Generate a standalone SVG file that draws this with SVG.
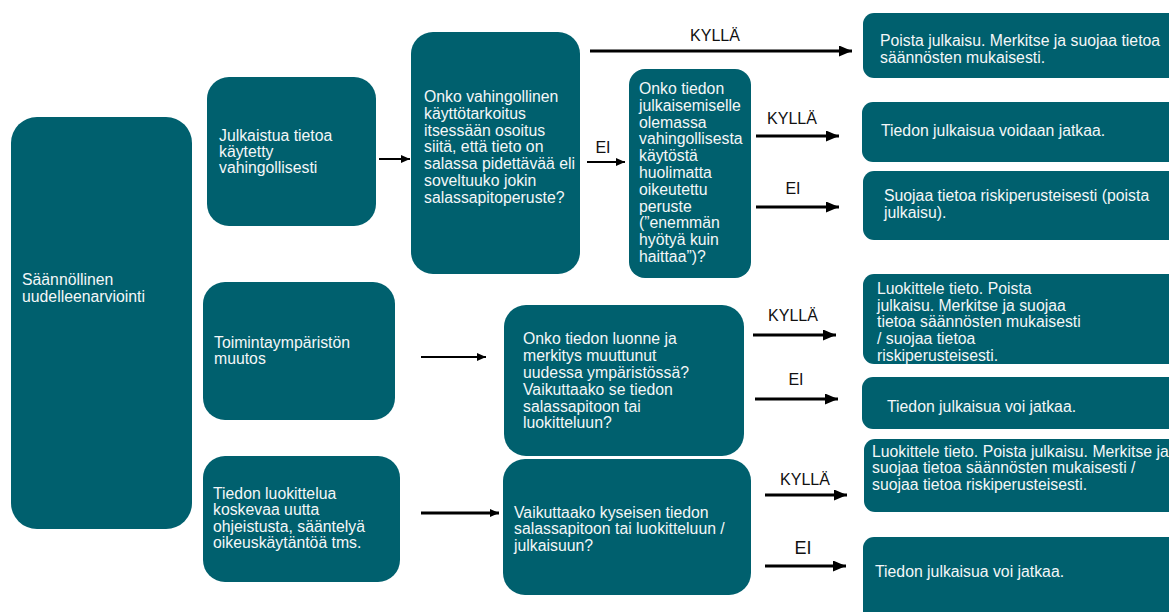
<svg xmlns="http://www.w3.org/2000/svg" width="1169" height="612" viewBox="0 0 1169 612">
<style>
.box{fill:#00606e}
.t{font-family:"Liberation Sans",Arial,sans-serif;font-size:15.8px;fill:#f4f7f8}
.lbl{font-family:"Liberation Sans",Arial,sans-serif;font-size:16px;fill:#111;text-anchor:middle}
.c{stroke:#000;fill:none}
.thick{stroke-width:3}
.thin{stroke-width:2}
</style>
<defs>
<marker id="ah" markerUnits="userSpaceOnUse" markerWidth="13" markerHeight="11" refX="13" refY="5.5" orient="auto"><path d="M0,0 L13,5.5 L0,11 z" fill="#000"/></marker>
<marker id="ahs" markerUnits="userSpaceOnUse" markerWidth="9" markerHeight="8" refX="9" refY="4" orient="auto"><path d="M0,0 L9,4 L0,8 z" fill="#000"/></marker>
</defs>
<rect width="1169" height="612" fill="#fff"/>
<g id="n-saannollinen"><rect class="box" x="11" y="117" width="181" height="412" rx="26"/><text class="t"><tspan x="22" y="285">Säännöllinen</tspan><tspan x="22" y="302">uudelleenarviointi</tspan></text></g>
<g id="n-julkaistua"><rect class="box" x="207" y="77" width="169" height="149" rx="22"/><text class="t"><tspan x="219" y="141">Julkaistua tietoa</tspan><tspan x="219" y="157">käytetty</tspan><tspan x="219" y="173">vahingollisesti</tspan></text></g>
<g id="n-onko-vahingollinen"><rect class="box" x="411" y="32" width="169" height="242" rx="22"/><text class="t"><tspan x="424" y="102">Onko vahingollinen</tspan><tspan x="424" y="119">käyttötarkoitus</tspan><tspan x="424" y="136">itsessään osoitus</tspan><tspan x="424" y="152">siitä, että tieto on</tspan><tspan x="424" y="169">salassa pidettävää eli</tspan><tspan x="424" y="186">soveltuuko jokin</tspan><tspan x="424" y="203">salassapitoperuste?</tspan></text></g>
<g id="n-onko-julkaisemiselle"><rect class="box" x="629" y="69" width="122" height="209" rx="16"/><text class="t"><tspan x="639" y="94">Onko tiedon</tspan><tspan x="639" y="111">julkaisemiselle</tspan><tspan x="639" y="128">olemassa</tspan><tspan x="639" y="144">vahingollisesta</tspan><tspan x="639" y="161">käytöstä</tspan><tspan x="639" y="178">huolimatta</tspan><tspan x="639" y="195">oikeutettu</tspan><tspan x="639" y="212">peruste</tspan><tspan x="639" y="228">(”enemmän</tspan><tspan x="639" y="245">hyötyä kuin</tspan><tspan x="639" y="262">haittaa”)?</tspan></text></g>
<g id="n-poista"><rect class="box" x="863" y="13" width="316" height="65" rx="11"/><text class="t"><tspan x="880" y="46">Poista julkaisu. Merkitse ja suojaa tietoa</tspan><tspan x="880" y="63">säännösten mukaisesti.</tspan></text></g>
<g id="n-voidaan"><rect class="box" x="862" y="102" width="317" height="60" rx="11"/><text class="t"><tspan x="881" y="136">Tiedon julkaisua voidaan jatkaa.</tspan></text></g>
<g id="n-suojaa"><rect class="box" x="863" y="171" width="316" height="69" rx="11"/><text class="t"><tspan x="884" y="201">Suojaa tietoa riskiperusteisesti (poista</tspan><tspan x="884" y="218">julkaisu).</tspan></text></g>
<g id="n-toimintaymparisto"><rect class="box" x="203" y="282" width="192" height="138" rx="22"/><text class="t"><tspan x="214" y="348">Toimintaympäristön</tspan><tspan x="214" y="364">muutos</tspan></text></g>
<g id="n-onko-luonne"><rect class="box" x="504" y="305" width="240" height="151" rx="22"/><text class="t"><tspan x="523" y="344">Onko tiedon luonne ja</tspan><tspan x="523" y="361">merkitys muuttunut</tspan><tspan x="523" y="378">uudessa ympäristössä?</tspan><tspan x="523" y="395">Vaikuttaako se tiedon</tspan><tspan x="523" y="412">salassapitoon tai</tspan><tspan x="523" y="428">luokitteluun?</tspan></text></g>
<g id="n-luokittele1"><rect class="box" x="863" y="274" width="316" height="90" rx="11"/><text class="t"><tspan x="877" y="294">Luokittele tieto. Poista</tspan><tspan x="877" y="311">julkaisu. Merkitse ja suojaa</tspan><tspan x="877" y="327">tietoa säännösten mukaisesti</tspan><tspan x="877" y="344">/ suojaa tietoa</tspan><tspan x="877" y="361">riskiperusteisesti.</tspan></text></g>
<g id="n-voi1"><rect class="box" x="862" y="377" width="317" height="52" rx="11"/><text class="t"><tspan x="887" y="412">Tiedon julkaisua voi jatkaa.</tspan></text></g>
<g id="n-tiedon-luokittelua"><rect class="box" x="203" y="456" width="197" height="126" rx="22"/><text class="t"><tspan x="213" y="499">Tiedon luokittelua</tspan><tspan x="213" y="515">koskevaa uutta</tspan><tspan x="213" y="532">ohjeistusta, sääntelyä</tspan><tspan x="213" y="548">oikeuskäytäntöä tms.</tspan></text></g>
<g id="n-vaikuttaako"><rect class="box" x="503" y="459" width="248" height="136" rx="22"/><text class="t"><tspan x="514" y="518">Vaikuttaako kyseisen tiedon</tspan><tspan x="514" y="534">salassapitoon tai luokitteluun /</tspan><tspan x="514" y="551">julkaisuun?</tspan></text></g>
<g id="n-luokittele2"><rect class="box" x="864" y="439" width="315" height="73" rx="11"/><text class="t"><tspan x="872" y="457">Luokittele tieto. Poista julkaisu. Merkitse ja</tspan><tspan x="872" y="473">suojaa tietoa säännösten mukaisesti /</tspan><tspan x="872" y="490">suojaa tietoa riskiperusteisesti.</tspan></text></g>
<g id="n-voi2"><rect class="box" x="863" y="537" width="316" height="90" rx="11"/><text class="t"><tspan x="875" y="577">Tiedon julkaisua voi jatkaa.</tspan></text></g>
<g id="connectors">
<line class="c thin" x1="379" y1="159" x2="410" y2="159" marker-end="url(#ahs)"/>
<line class="c thick" x1="590" y1="51" x2="852" y2="51" marker-end="url(#ah)"/>
<line class="c thin" x1="587" y1="162" x2="625" y2="162" marker-end="url(#ahs)"/>
<line class="c thick" x1="756" y1="136" x2="839" y2="136" marker-end="url(#ah)"/>
<line class="c thick" x1="756" y1="207" x2="839" y2="207" marker-end="url(#ah)"/>
<line class="c thin" x1="421" y1="357" x2="486" y2="357" marker-end="url(#ahs)"/>
<line class="c thick" x1="753" y1="335" x2="836" y2="335" marker-end="url(#ah)"/>
<line class="c thick" x1="755" y1="399" x2="838" y2="399" marker-end="url(#ah)"/>
<line class="c thick" x1="421" y1="513" x2="499" y2="513" marker-end="url(#ahs)"/>
<line class="c thick" x1="765" y1="495" x2="847" y2="495" marker-end="url(#ah)"/>
<line class="c thick" x1="765" y1="566" x2="846" y2="566" marker-end="url(#ah)"/>
<text class="lbl" x="715" y="41">KYLLÄ</text>
<text class="lbl" x="603" y="153">EI</text>
<text class="lbl" x="792" y="124">KYLLÄ</text>
<text class="lbl" x="793" y="194">EI</text>
<text class="lbl" x="793" y="321">KYLLÄ</text>
<text class="lbl" x="796" y="385">EI</text>
<text class="lbl" x="805" y="485">KYLLÄ</text>
<text class="lbl" x="803" y="554" style="font-size:18px">EI</text>
</g>
</svg>
